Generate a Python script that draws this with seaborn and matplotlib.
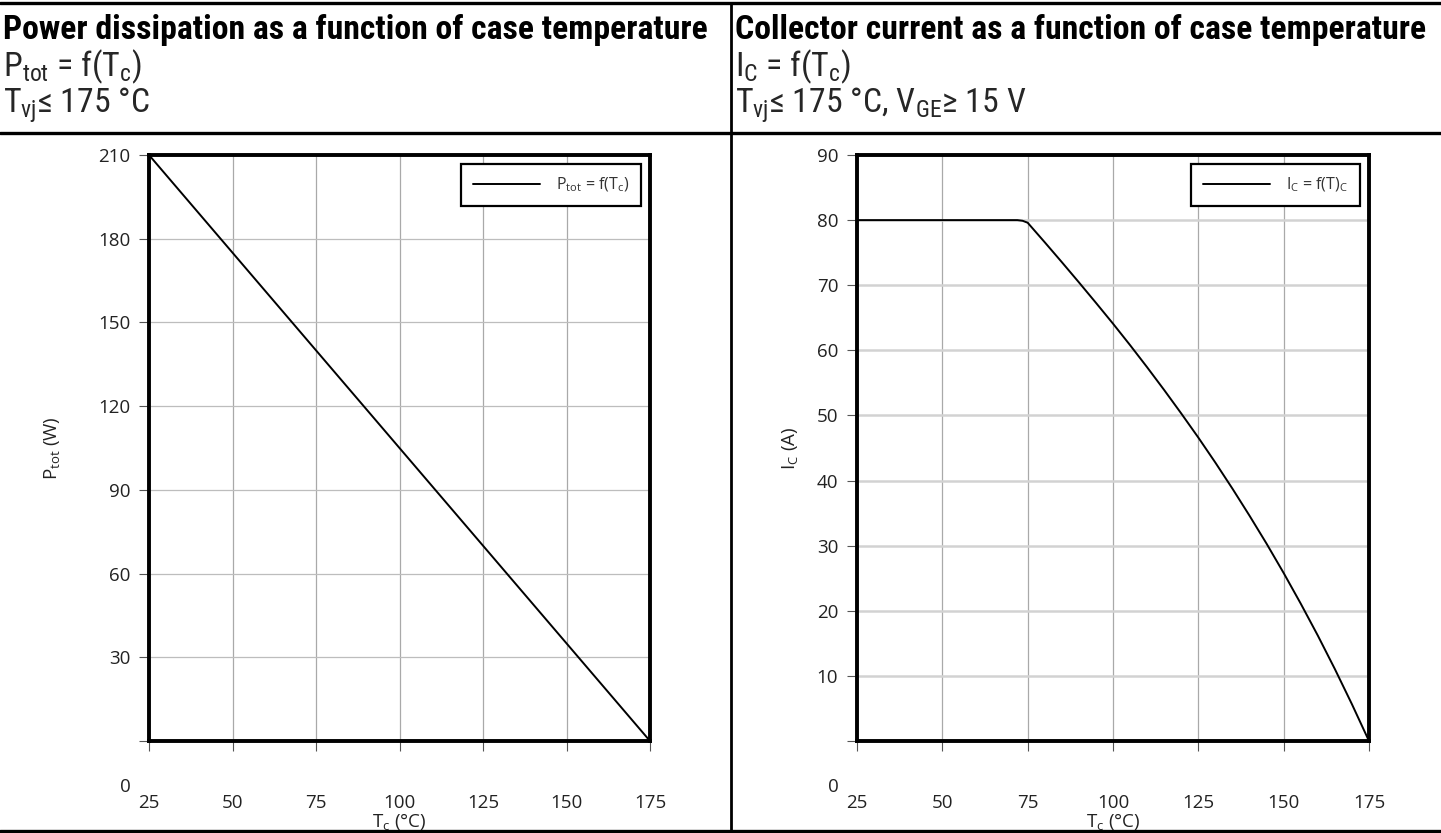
import matplotlib
matplotlib.use("Agg")
import matplotlib.pyplot as plt
import seaborn as sns
import pandas as pd
from matplotlib.lines import Line2D
from matplotlib.ticker import FixedLocator, FuncFormatter
from matplotlib import font_manager

# ---------------- data ----------------
tc_power = [25, 175]
p_tot = [210, 0]

tc_current = [25, 50, 72, 73.5, 75, 80, 85, 90, 95, 100, 105, 110, 115, 120, 125, 130,
              135, 140, 145, 150, 155, 160, 165, 170, 175]
i_c = [80, 80, 80, 79.9, 79.6, 76.6, 73.55, 70.45, 67.3, 64.1, 60.8, 57.4, 53.9, 50.3,
       46.6, 42.75, 38.75, 34.6, 30.3, 25.8, 21.1, 16.2, 11.05, 5.65, 0]

x_ticks = [25, 50, 75, 100, 125, 150, 175]
p_ticks = [0, 30, 60, 90, 120, 150, 180, 210]
i_ticks = [0, 10, 20, 30, 40, 50, 60, 70, 80, 90]

left_title = "Power dissipation as a function of case temperature"
left_row2 = r"P$_{tot}$ = f(T$_{c}$)"
left_row3 = r"T$_{vj}$≤ 175 °C"
right_title = "Collector current as a function of case temperature"
right_row2 = r"I$_{C}$ = f(T$_{c}$)"
right_row3 = r"T$_{vj}$≤ 175 °C, V$_{GE}$≥ 15 V"

left_legend = r"P$_{tot}$ = f(T$_{c}$)"
right_legend = r"I$_{C}$ = f(T)$_{C}$"
left_ylabel = r"P$_{tot}$ (W)"
right_ylabel = r"I$_{C}$ (A)"
xlabel = r"T$_{c}$ (°C)"

# ---------------- style ----------------
sns.set_theme(style="white")
plt.rcParams["font.family"] = ["Open Sans", "DejaVu Sans"]
plt.rcParams["mathtext.default"] = "regular"

installed = {f.name for f in font_manager.fontManager.ttflist}
header_choice = next((n for n in ["Liberation Sans Narrow", "Roboto Condensed",
                                  "Open Sans Condensed", "Noto Sans Condensed", "Lato"]
                      if n in installed), "DejaVu Sans")
HEADER_FONT = [header_choice, "DejaVu Sans"]

W, H = 1441, 833
fig = plt.figure(figsize=(W / 100, H / 100), dpi=100)


def fx(px):
    return px / W


def fy(py):
    return 1 - py / H


ax_bottom, ax_top = 741, 155
ax1 = fig.add_axes([fx(149), fy(ax_bottom), fx(650 - 149), (ax_bottom - ax_top) / H])
ax2 = fig.add_axes([fx(857), fy(ax_bottom), fx(1369 - 857), (ax_bottom - ax_top) / H])

df_p = pd.DataFrame({"Tc": tc_power, "P": p_tot})
df_i = pd.DataFrame({"Tc": tc_current, "I": i_c})

sns.lineplot(data=df_p, x="Tc", y="P", ax=ax1, color="black", lw=1.4, sort=False,
             label=left_legend)
sns.lineplot(data=df_i, x="Tc", y="I", ax=ax2, color="black", lw=1.4, sort=False,
             label=right_legend)

TICK_FS = 13.5


def style_axes(ax, yticks, ylim, ylab, ylab_x, hgrid_color, hgrid_lw):
    ax.set_xlim(25, 175)
    ax.set_ylim(*ylim)
    ax.xaxis.set_major_locator(FixedLocator(x_ticks))
    ax.yaxis.set_major_locator(FixedLocator(yticks))
    ax.yaxis.set_major_formatter(FuncFormatter(lambda v, p: "" if v == 0 else f"{v:g}"))
    ax.xaxis.grid(True, color="#a9a9a9", lw=0.9)
    ax.yaxis.grid(True, color=hgrid_color, lw=hgrid_lw)
    ax.set_axisbelow(True)
    for s in ax.spines.values():
        s.set_visible(True)
        s.set_color("black")
        s.set_linewidth(2.8)
    ax.tick_params(axis="both", which="major", direction="out", length=7.5, width=0.8,
                   color="#555555", labelsize=TICK_FS, labelcolor="#222222")
    ax.tick_params(axis="x", pad=31, bottom=True)
    ax.tick_params(axis="y", pad=6, left=True)
    ax.set_xlabel(xlabel, fontsize=TICK_FS, color="#222222", va="center")
    ax.xaxis.set_label_coords(0.5, -(821 - ax_bottom) / (ax_bottom - ax_top))
    ax.set_ylabel(ylab, fontsize=TICK_FS, color="#222222", va="center")
    ax.yaxis.set_label_coords(ylab_x, 0.5)
    # the zero label sits lower than the others in the reference
    ax.annotate("0", xy=(0, 0), xycoords=ax.get_yaxis_transform(),
                xytext=(-(10.5 + 8), -46), textcoords="offset pixels",
                ha="right", va="center", fontsize=TICK_FS, color="#222222")
    leg = ax.legend(loc="upper right", frameon=True, fancybox=False, edgecolor="black",
                    framealpha=1, fontsize=11.5, handlelength=4.2, borderpad=0.75,
                    borderaxespad=0.55, labelcolor="#333333", handletextpad=1.0)
    leg.get_frame().set_linewidth(1.6)


style_axes(ax1, p_ticks, (0, 210), left_ylabel, -(149 - 52) / (650 - 149), "#bdbdbd", 0.9)
style_axes(ax2, i_ticks, (0, 90), right_ylabel, -(857 - 790) / (1369 - 857), "#d2d2d2", 1.8)

# ---------------- header table ----------------
for y in (3, 133, 831):
    fig.add_artist(Line2D([0, 1], [fy(y), fy(y)], transform=fig.transFigure,
                          color="black", lw=2.4))
fig.add_artist(Line2D([fx(731), fx(731)], [fy(3), fy(831)], transform=fig.transFigure,
                      color="black", lw=2.0))

t1 = fig.text(fx(3), fy(30), left_title, fontsize=20, weight="bold",
              family=HEADER_FONT, va="center", ha="left", color="black")
t2 = fig.text(fx(735), fy(30), right_title, fontsize=20, weight="bold",
              family=HEADER_FONT, va="center", ha="left", color="black")
fig.canvas.draw()
renderer = fig.canvas.get_renderer()
w1 = t1.get_window_extent(renderer).width
w2 = t2.get_window_extent(renderer).width
fs = min(20 * (722 / w1), 20 * (690 / w2))
t1.set_fontsize(fs)
t2.set_fontsize(fs)
for x0, r2, r3 in ((3, left_row2, left_row3), (735, right_row2, right_row3)):
    fig.text(fx(x0), fy(67), r2, fontsize=fs, family=HEADER_FONT, va="center", ha="left")
    fig.text(fx(x0), fy(105), r3, fontsize=fs, family=HEADER_FONT, va="center", ha="left")

fig.savefig("out.png", dpi=100)
